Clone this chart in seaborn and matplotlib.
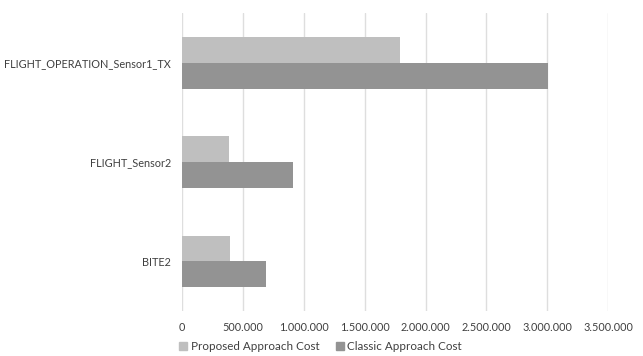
import matplotlib
matplotlib.use("Agg")
import matplotlib.pyplot as plt
from matplotlib.ticker import FuncFormatter, MultipleLocator
import seaborn as sns
import pandas as pd

# Cost per test case, two approaches
categories = ["FLIGHT_OPERATION_Sensor1_TX", "FLIGHT_Sensor2", "BITE2"]
proposed_cost = [1790000, 387000, 393000]
classic_cost = [3010000, 909000, 687000]
series_names = ["Proposed Approach Cost", "Classic Approach Cost"]
series_colors = ["#bfbfbf", "#939393"]

df = pd.DataFrame({
    "case": categories * 2,
    "cost": proposed_cost + classic_cost,
    "series": [series_names[0]] * len(categories) + [series_names[1]] * len(categories),
})

sns.set_theme(style="white")
plt.rcParams["font.family"] = ["Lato", "DejaVu Sans"]

fig = plt.figure(figsize=(6.43, 3.56), dpi=100)
ax = fig.add_axes([0.2835, 0.1264, 0.662, 0.837])

sns.barplot(
    data=df, x="cost", y="case", hue="series", order=categories,
    hue_order=series_names, palette=series_colors, orient="h",
    width=0.52, saturation=1, ax=ax, legend=False, edgecolor="none",
)

ax.set_xlim(0, 3500000)
ax.set_ylim(2.5, -0.5)
ax.xaxis.set_major_locator(MultipleLocator(500000))
ax.xaxis.set_major_formatter(FuncFormatter(lambda v, p: f"{int(v):,}".replace(",", ".")))
ax.grid(axis="x", color="#dedede", linewidth=1)
ax.set_axisbelow(True)
for s in ax.spines.values():
    s.set_visible(False)
ax.set_xlabel("")
ax.set_ylabel("")
ax.tick_params(axis="both", length=0, labelsize=7.8, labelcolor="#404040")
ax.tick_params(axis="y", pad=8)
ax.tick_params(axis="x", pad=8)

handles = [plt.Rectangle((0, 0), 1, 1, color=c) for c in series_colors]
fig.legend(
    handles, series_names, loc="center left", bbox_to_anchor=(0.262, 0.027),
    ncol=2, frameon=False, fontsize=8.4, handlelength=0.7, handleheight=0.7,
    handletextpad=0.3, columnspacing=1.4, labelcolor="#404040",
)

fig.savefig("out.png", dpi=100)
